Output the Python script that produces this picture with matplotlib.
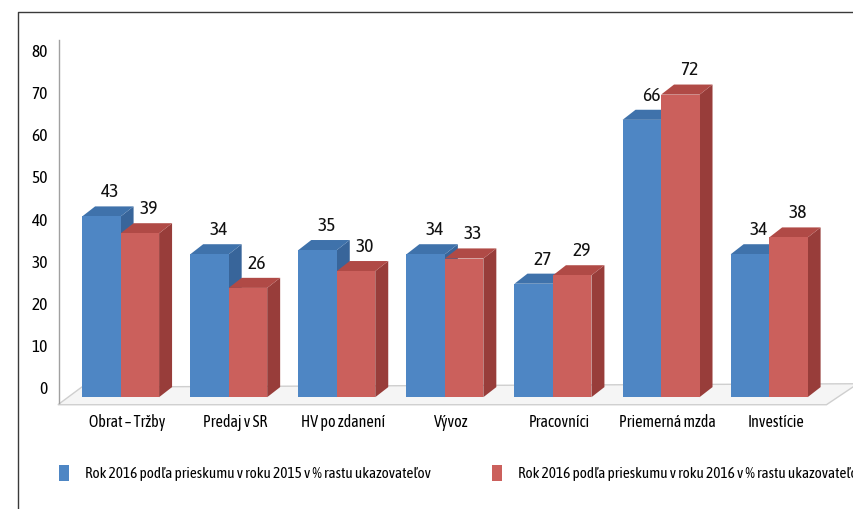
import matplotlib
matplotlib.use('Agg')
import matplotlib.pyplot as plt
from matplotlib.patches import Polygon, Patch
from matplotlib.lines import Line2D
import numpy as np

plt.rcParams['font.family'] = ['Asap Condensed', 'Archivo Narrow', 'DejaVu Sans']

# ── Data ────────────────────────────────────────────────────
categories = ['Obrat – Tržby', 'Predaj v SR', 'HV po zdanení', 'Vývoz',
              'Pracovníci', 'Priemerná mzda', 'Investície']
survey_2015 = [43, 34, 35, 34, 27, 66, 34]
survey_2016 = [39, 26, 30, 33, 29, 72, 38]
series_names = ['Rok 2016 podľa prieskumu v roku 2015 v % rastu ukazovateľov',
                'Rok 2016 podľa prieskumu v roku 2016 v % rastu ukazovateľov']
y_ticks = [0, 10, 20, 30, 40, 50, 60, 70, 80]

# face colours: front, top, side
palette = [
    ('#4e86c4', '#3f72ab', '#38659a'),
    ('#cb605c', '#b04a46', '#983d3a'),
]

# pseudo-3D geometry (category units / value units)
W = 0.356   # bar width
DX = 0.12   # depth, horizontal
DY = 2.4    # depth, vertical

fig = plt.figure(figsize=(8.54, 5.09), dpi=100)
ax = fig.add_axes([59 / 854, 103 / 509, 1 - 59 / 854, 366 / 509])
ax.set_xlim(-0.63, 6.725)
ax.set_ylim(-4.5, 82.6)

x = np.arange(len(categories))

# floor slab
floor = Polygon([(-0.64, -4.2), (6.47, -4.2), (6.76, 0.8), (-0.42, 0.0)],
                closed=True, facecolor='#f5f5f5', edgecolor='#cfcfcf',
                linewidth=1.0, zorder=1, clip_on=False)
ax.add_patch(floor)

for s, vals in enumerate([survey_2015, survey_2016]):
    front, top, side = palette[s]
    xl = x - DX / 2 - W + s * W
    z = 2 + s * 3
    ax.bar(xl, vals, width=W, bottom=-DY, align='edge', color=front,
           linewidth=0, zorder=z + 2)
    for xi, v in zip(xl, vals):
        ax.add_patch(Polygon([(xi, v - DY), (xi + W, v - DY),
                              (xi + W + DX, v), (xi + DX, v)],
                             closed=True, facecolor=top, linewidth=0, zorder=z + 1))
        ax.add_patch(Polygon([(xi + W, -DY), (xi + W + DX, 0),
                              (xi + W + DX, v), (xi + W, v - DY)],
                             closed=True, facecolor=side, linewidth=0, zorder=z))
        ax.text(xi + W / 2 + DX * 0.7, v + 1.2, f'{v}', ha='center', va='bottom',
                fontsize=14, color='#111111', zorder=10)

ax.set_xticks(x)
ax.set_xticklabels(categories, fontsize=11.5)
ax.set_yticks(y_ticks)
ax.set_yticklabels([str(t) for t in y_ticks], fontsize=12.5)
ax.tick_params(axis='both', length=0)
ax.tick_params(axis='x', pad=6)
ax.tick_params(axis='y', pad=8)

for sp in ['top', 'right', 'bottom']:
    ax.spines[sp].set_visible(False)
ax.spines['left'].set_color('#a0a0a0')
ax.spines['left'].set_linewidth(1.0)
ax.spines['left'].set_bounds(-3.8, 82.6)

handles = [Patch(facecolor=palette[i][0], edgecolor='none', label=series_names[i])
           for i in range(2)]
fig.legend(handles=handles, loc='center left', bbox_to_anchor=(45 / 854, 1 - 473 / 509),
           ncol=2, frameon=False, fontsize=11, handlelength=0.7, handleheight=1.2,
           handletextpad=1.0, columnspacing=4.0)

# outer frame (top and left edges)
fig.add_artist(Line2D([18 / 854, 18 / 854, 1.0], [0.0, 1 - 12 / 509, 1 - 12 / 509],
                      transform=fig.transFigure, color='#3a3a3a', linewidth=1.0))

fig.savefig('out.png', dpi=100, facecolor='white')
